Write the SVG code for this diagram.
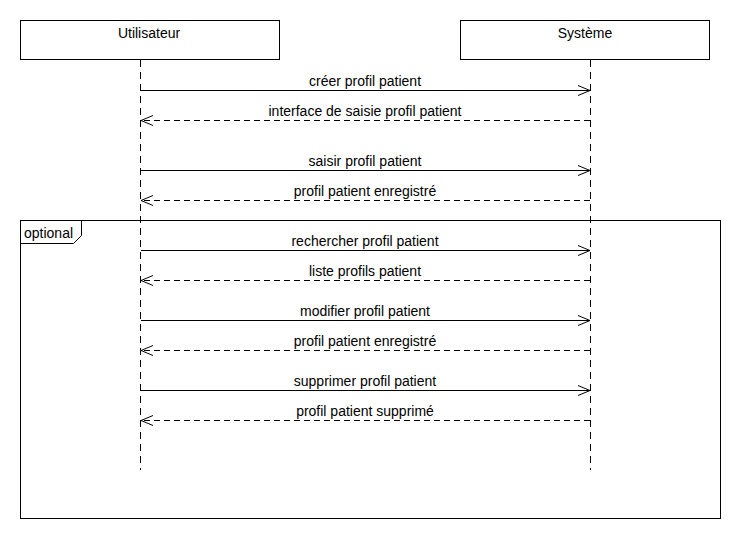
<svg xmlns="http://www.w3.org/2000/svg" width="740" height="540" viewBox="0 0 740 540">
<style>
text{font-family:"Liberation Sans",Arial,sans-serif;font-size:14px;fill:#000;text-anchor:middle}
.box{fill:#fff;stroke:#000;stroke-width:1}
.life{stroke:#000;stroke-width:1;stroke-dasharray:7,5;fill:none}
.call{stroke:#000;stroke-width:1;fill:none;marker-end:url(#open)}
.ret{stroke:#000;stroke-width:1;stroke-dasharray:6,4;fill:none;marker-end:url(#open)}
</style>
<defs>
<marker id="open" markerWidth="14" markerHeight="12" refX="13" refY="6" orient="auto" markerUnits="userSpaceOnUse">
<path d="M1,1 L13,6 L1,11" fill="none" stroke="#000" stroke-width="1"/>
</marker>
</defs>
<rect width="740" height="540" fill="#fff"/>
<g id="frame-optional">
<rect x="20.5" y="220.5" width="700" height="298" fill="none" stroke="#000"/>
<path d="M20.5,243.5 L73.5,243.5 L81.5,235.5 L81.5,220.5" fill="none" stroke="#000"/>
<text x="24" y="238" style="text-anchor:start">optional</text>
</g>
<g id="utilisateur">
<rect class="box" x="20.5" y="20.5" width="259" height="39"/>
<text x="149" y="38">Utilisateur</text>
<line class="life" x1="140.5" y1="60" x2="140.5" y2="470"/>
</g>
<g id="systeme">
<rect class="box" x="460.5" y="20.5" width="249" height="39"/>
<text x="585" y="38">Système</text>
<line class="life" x1="590.5" y1="60" x2="590.5" y2="470"/>
</g>
<g id="connectors">
<line class="call" x1="141" y1="90.5" x2="590" y2="90.5"/>
<text x="365" y="86">créer profil patient</text>
<line class="ret" x1="590" y1="120.5" x2="141" y2="120.5"/>
<text x="365" y="116">interface de saisie profil patient</text>
<line class="call" x1="141" y1="170.5" x2="590" y2="170.5"/>
<text x="365" y="166">saisir profil patient</text>
<line class="ret" x1="590" y1="200.5" x2="141" y2="200.5"/>
<text x="365" y="196">profil patient enregistré</text>
<line class="call" x1="141" y1="250.5" x2="590" y2="250.5"/>
<text x="365" y="246">rechercher profil patient</text>
<line class="ret" x1="590" y1="280.5" x2="141" y2="280.5"/>
<text x="365" y="276">liste profils patient</text>
<line class="call" x1="141" y1="320.5" x2="590" y2="320.5"/>
<text x="365" y="316">modifier profil patient</text>
<line class="ret" x1="590" y1="350.5" x2="141" y2="350.5"/>
<text x="365" y="346">profil patient enregistré</text>
<line class="call" x1="141" y1="390.5" x2="590" y2="390.5"/>
<text x="365" y="386">supprimer profil patient</text>
<line class="ret" x1="590" y1="420.5" x2="141" y2="420.5"/>
<text x="365" y="416">profil patient supprimé</text>
</g>
</svg>
